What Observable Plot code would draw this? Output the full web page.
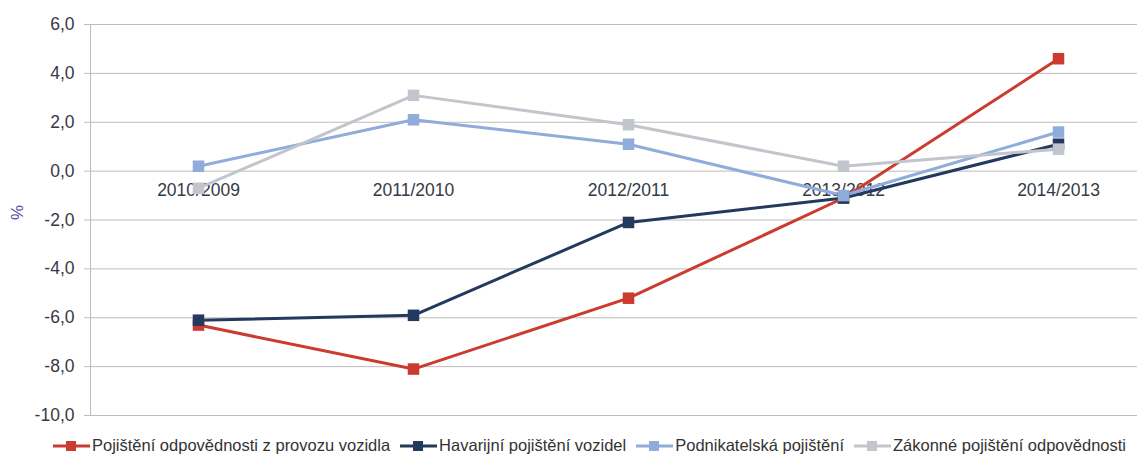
<!DOCTYPE html>
<html><head><meta charset="utf-8">
<script src="https://cdn.jsdelivr.net/npm/d3@7"></script>
<script src="https://cdn.jsdelivr.net/npm/@observablehq/plot@0.6"></script>
<style>
body{margin:0;background:#fff;font-family:"Liberation Sans",Arial,sans-serif;}
#legend{display:flex;gap:10px;padding-left:53px;padding-top:3px;height:25px;align-items:center;font-size:16.5px;color:#333;}
#legend .it{display:flex;align-items:center;white-space:nowrap;}
#legend svg{margin-right:2px;}
</style></head>
<body><div id="chart"></div><div id="legend"></div>
<script>
const categories = ["2010/2009","2011/2010","2012/2011","2013/2012","2014/2013"];
const seriesNames = ["Pojištění odpovědnosti z provozu vozidla","Havarijní pojištění vozidel","Podnikatelská pojištění","Zákonné pojištění odpovědnosti"];
const seriesColors = ["#cc3b2f","#233a5e","#90acdb","#c2c5cc"];
const povinne = [-6.3,-8.1,-5.2,-1.1,4.6];
const havarijni = [-6.1,-5.9,-2.1,-1.1,1.1];
const podnikatelska = [0.2,2.1,1.1,-1.0,1.6];
const zakonne = [-0.7,3.1,1.9,0.2,0.9];
const yTicks = [-10,-8,-6,-4,-2,0,2,4,6];

const allValues = [povinne,havarijni,podnikatelska,zakonne];
const data = [];
allValues.forEach((vals,si)=>vals.forEach((v,i)=>data.push({series:seriesNames[si],cat:categories[i],value:v})));
const fmt = d => d3.format(".1f")(d).replace(".",",").replace("−","-");

const chart = Plot.plot({
  width:1137, height:430,
  marginLeft:90, marginRight:0, marginTop:24, marginBottom:15,
  style:{fontFamily:"Liberation Sans, Arial, sans-serif",fontSize:"17px",color:"#333",background:"#fff"},
  x:{type:"point",domain:categories,range:[198,1058],padding:0,axis:null},
  y:{domain:[-10,6],axis:null},
  color:{domain:seriesNames,range:seriesColors},
  marks:[
    Plot.gridY(yTicks,{stroke:"#bdbdbd",strokeOpacity:1,strokeWidth:1}),
    Plot.frame({anchor:"left",stroke:"#bdbdbd"}),
    Plot.axisY(yTicks,{tickFormat:fmt,tickSize:6,stroke:"#bdbdbd",tickPadding:10,label:null,fill:"#353a45",fontSize:17.5}),
    Plot.text(categories,{x:d=>d,y:0,dy:19,text:d=>d,fill:"#353a45",fontSize:17.5}),
    Plot.text(["%"],{frameAnchor:"left",dx:-73,rotate:-90,fill:"#5a4d9e",fontSize:17}),
    Plot.line(data,{x:"cat",y:"value",z:"series",stroke:"series",strokeWidth:3}),
    Plot.dot(data,{x:"cat",y:"value",fill:"series",symbol:"square",r:6.5})
  ]
});
document.getElementById("chart").append(chart);

const lg = d3.select("#legend");
seriesNames.forEach((n,i)=>{
  const it = lg.append("div").attr("class","it");
  const s = it.append("svg").attr("width",37).attr("height",14);
  s.append("line").attr("x1",0).attr("x2",37).attr("y1",7).attr("y2",7).attr("stroke",seriesColors[i]).attr("stroke-width",3);
  s.append("rect").attr("x",13).attr("y",2).attr("width",10).attr("height",10).attr("fill",seriesColors[i]);
  it.append("span").text(n);
});
</script></body></html>
